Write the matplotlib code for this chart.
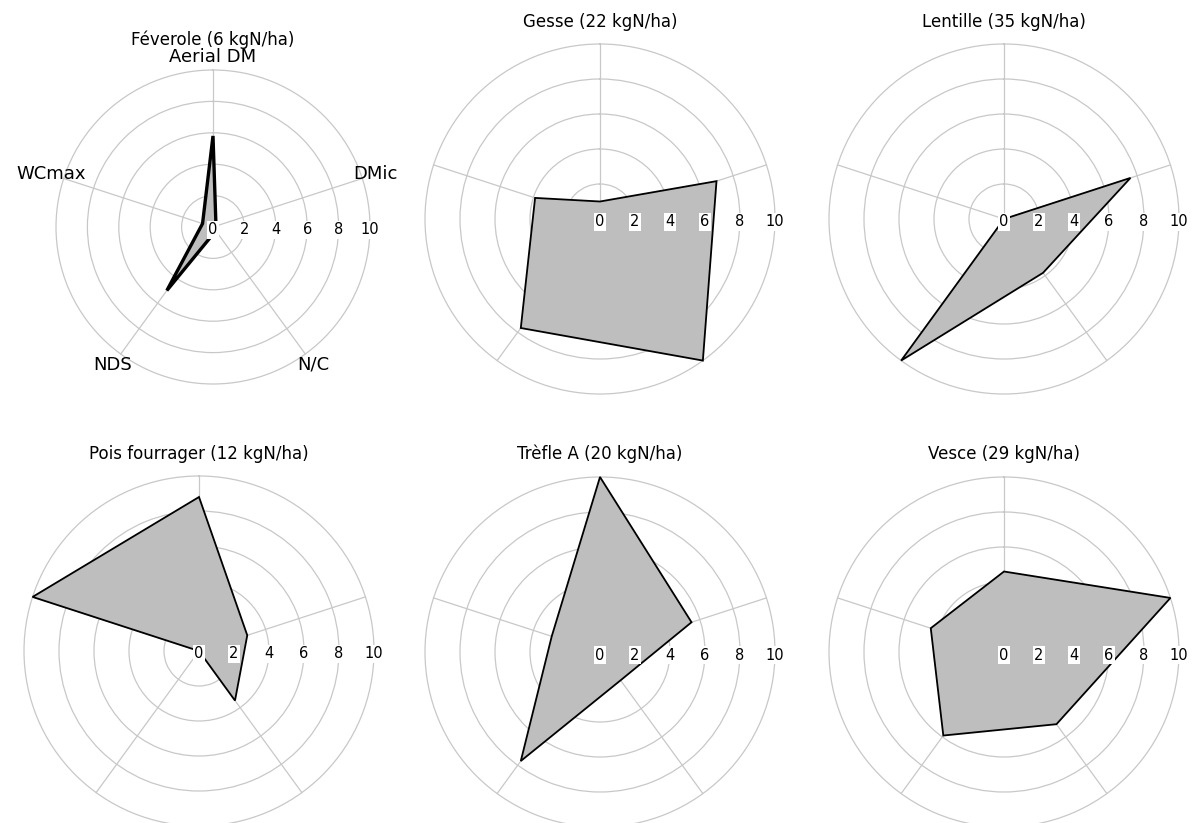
import numpy as np
import matplotlib
matplotlib.use("Agg")
import matplotlib.pyplot as plt
from matplotlib.transforms import offset_copy

# Indicator names, clockwise from the top
categories = ["Aerial DM", "DMic", "N/C", "NDS", "WCmax"]

# Species and the nitrogen they supply (kgN/ha)
species = ["Féverole", "Gesse", "Lentille", "Pois fourrager", "Trèfle A", "Vesce"]
nitrogen = [6, 22, 35, 12, 20, 29]

# Scores (0-10) per indicator, same order as `categories`
feverole = [5.8, 0.2, 0.3, 5.0, 0.7]
gesse = [1.0, 7.0, 10.0, 7.7, 3.9]
lentille = [0.0, 7.6, 3.8, 10.0, 0.0]
pois_fourrager = [8.8, 2.9, 3.5, 0.0, 10.0]
trefle_a = [10.0, 5.5, 2.0, 7.7, 2.9]
vesce = [4.6, 10.0, 5.1, 5.9, 4.4]

radial_ticks = [0, 2, 4, 6, 8, 10]

scores = [feverole, gesse, lentille, pois_fourrager, trefle_a, vesce]

W, H = 1193, 823
fig = plt.figure(figsize=(W / 100, H / 100), dpi=100)
fig.patch.set_facecolor("white")

# (centre x, centre y, radius) of each radar in pixels, y measured from the top
frames = [
    (213, 227, 157),
    (600, 219, 175),
    (1004, 219, 175),
    (199, 651, 175),
    (600, 652, 175),
    (1004, 652, 175),
]
title_y = [40, 22, 22, 454, 454, 454]

grid_col = "#c8c8c8"
angles = np.linspace(0, 2 * np.pi, len(categories), endpoint=False)

for i, (name, n, vals, (cx, cy, rad)) in enumerate(zip(species, nitrogen, scores, frames)):
    rect = [(cx - rad) / W, 1 - (cy + rad) / H, 2 * rad / W, 2 * rad / H]
    ax = fig.add_axes(rect, projection="polar")
    ax.set_theta_offset(np.pi / 2)
    ax.set_theta_direction(-1)
    ax.set_ylim(0, max(radial_ticks))
    ax.set_xticks(angles)
    ax.set_xticklabels([])
    ax.set_yticks(radial_ticks[1:])
    ax.set_yticklabels([])
    ax.tick_params(length=0)
    ax.grid(True, color=grid_col, linewidth=0.9)
    for gl in ax.yaxis.get_gridlines() + ax.xaxis.get_gridlines():
        gl.set_clip_on(False)
    ax.set_axisbelow(True)
    ax.spines["polar"].set_visible(False)

    theta = np.append(angles, angles[0])
    r = np.append(vals, vals[0])
    lw = 2.4 if i == 0 else 1.3
    ax.fill(theta, r, facecolor="#bebebe", edgecolor="black",
            linewidth=lw, zorder=2, clip_on=False)

    # radial scale labels along the horizontal, on white boxes
    tr = offset_copy(ax.transData, fig=fig, x=0, y=-3, units="dots")
    for t in radial_ticks:
        ax.text(np.pi / 2, t, str(t), transform=tr, ha="center", va="center",
                fontsize=10.5, color="black", zorder=5,
                bbox=dict(facecolor="white", edgecolor="none", pad=1.2))

    # indicator names only on the first radar
    if i == 0:
        for a, lab in zip(angles, categories):
            ax.text(a, 10.85, lab, ha="center", va="center", fontsize=13,
                    color="black", clip_on=False)

    fig.text(cx / W, 1 - title_y[i] / H, f"{name} ({n} kgN/ha)",
             ha="center", va="center", fontsize=12, color="black")

fig.savefig("out.png", dpi=100, facecolor="white")
